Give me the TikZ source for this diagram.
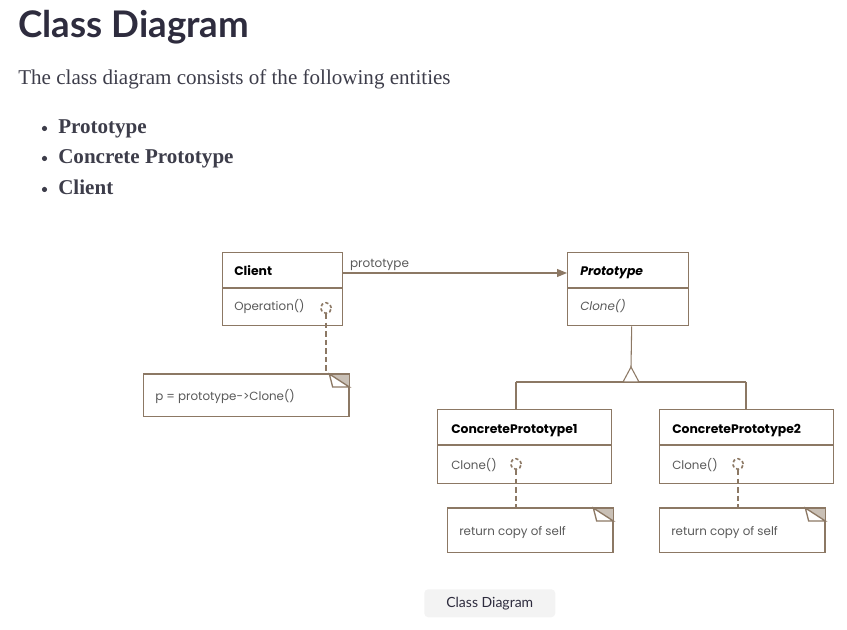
\documentclass[tikz,border=0pt]{standalone}
\usepackage{fontspec}
\setmainfont{Liberation Serif}
\newfontfamily\titlefont{Lato}
\newfontfamily\dfont{Poppins}
\usetikzlibrary{arrows.meta}
\definecolor{brn}{HTML}{8C7864}
\definecolor{foldc}{HTML}{C9C0B6}
\definecolor{ink}{HTML}{2E2C3E}
\definecolor{txt}{HTML}{3D3D4A}
\definecolor{dtxt}{HTML}{5A5A5A}
\definecolor{capbg}{HTML}{F3F3F3}
\begin{document}
\begin{tikzpicture}[x=0.75pt,y=-0.75pt,
  umlbox/.style={draw=brn,line width=1.1pt,fill=white,inner sep=0pt,anchor=north west},
  lbl/.style={anchor=base west,inner sep=0pt,font=\dfont\fontsize{8.9pt}{10pt}\selectfont,text=dtxt},
  lblb/.style={anchor=base west,inner sep=0pt,font=\dfont\bfseries\fontsize{9.3pt}{10pt}\selectfont,text=black},
  conn/.style={draw=brn,line width=0.8pt},
  dashlink/.style={draw=brn,line width=1.7pt,dash pattern=on 4pt off 2.4pt},
  port/.style={circle,draw=brn,line width=1.2pt,dash pattern=on 2.4pt off 1.8pt,minimum size=8pt,inner sep=0pt},
  txtl/.style={anchor=base west,inner sep=0pt,text=txt}
]
\useasboundingbox (0,0) rectangle (847,630);

% header text
\node[txtl,text=ink,font=\titlefont\bfseries\fontsize{27.5pt}{30pt}\selectfont] (title) at (18,38) {Class Diagram};
\node[txtl,font=\fontsize{15.8pt}{18pt}\selectfont] (para) at (18,85) {The class diagram consists of the following entities};
\foreach \y/\t [count=\i] in {134/Prototype,164/Concrete Prototype,195/Client}{
  \fill[txt] (44.5,\y-5.5) circle (2.6) node[coordinate] (bul\i) {};
  \node[txtl,font=\bfseries\fontsize{15.8pt}{18pt}\selectfont] (item\i) at (58,\y) {\t};
}

% Client
\node[umlbox,minimum width=90pt,minimum height=54.75pt] (client) at (222,252) {};
\draw[conn,line width=1.1pt] (222,288) -- (342,288);
\node[lblb] (clientn) at (234,275.5) {Client};
\node[lbl] (clientop) at (234,310.5) {Operation()};
\node[port] (cport) at (326,308) {};

% Prototype
\node[umlbox,minimum width=90.75pt,minimum height=54.75pt] (proto) at (567,252) {};
\draw[conn,line width=1.1pt] (567,288) -- (688,288);
\node[lblb,font=\dfont\bfseries\itshape\fontsize{9.3pt}{10pt}\selectfont] (proton) at (580,275.5) {Prototype};
\node[lbl,font=\dfont\itshape\fontsize{8.9pt}{10pt}\selectfont] (protoop) at (580,310.5) {Clone()};

% association
\draw[conn,-{Triangle[length=7.5pt,width=6pt]},fill=brn] ([yshift=-15.75pt]client.north east) -- ([yshift=-15.75pt]proto.north west)
  node[pos=0,anchor=base west,inner sep=0pt,xshift=4.5pt,yshift=4.2pt,font=\dfont\fontsize{9pt}{10pt}\selectfont,text=dtxt] (assoc) {prototype};

% Concrete prototypes
\node[umlbox,minimum width=130.5pt,minimum height=55.5pt] (cp1) at (437,409) {};
\draw[conn,line width=1.1pt] (437,445) -- (611,445);
\node[lblb] (cp1n) at (451,433.5) {ConcretePrototype1};
\node[lbl] (cp1op) at (451,469.5) {Clone()};
\node[port] (p1port) at (516,464) {};

\node[umlbox,minimum width=130.5pt,minimum height=55.5pt] (cp2) at (659,409) {};
\draw[conn,line width=1.1pt] (659,445) -- (833,445);
\node[lblb] (cp2n) at (672,433.5) {ConcretePrototype2};
\node[lbl] (cp2op) at (672,469.5) {Clone()};
\node[port] (p2port) at (738,464) {};

% generalization
\coordinate (apex) at (631,367);
\coordinate (bar) at (631,382);
\draw[conn] ([xshift=2.6pt]proto.south) -- (apex);
\draw[conn] (516,382) -- (746,382);
\draw[conn] (516,382) -- (516,409);
\draw[conn] (746,382) -- (746,409);
\draw[conn,fill=white] (apex) -- (623,382) -- (639,382) -- cycle;

% notes
\node[umlbox,line width=1pt,minimum width=153.75pt,minimum height=31.5pt] (note0) at (143,374) {};
\node[umlbox,line width=1pt,minimum width=123.75pt,minimum height=33pt] (note1) at (447,508) {};
\node[umlbox,line width=1pt,minimum width=123.75pt,minimum height=33pt] (note2) at (659,508) {};
\foreach \n in {note0,note1,note2}{
  \fill[foldc] ([xshift=-15pt]\n.north east) -- (\n.north east) -- ([yshift=-9.75pt]\n.north east) -- cycle;
  \draw[conn,line width=1pt,fill=white] ([xshift=-15pt]\n.north east) -- ([xshift=-12.5pt,yshift=-9.75pt]\n.north east) -- ([yshift=-9.75pt]\n.north east) -- cycle;
  \draw[conn,line width=1pt] (\n.north west) -- (\n.north east) -- (\n.south east);
}
\node[lbl] (note0t) at (155,401) {p = prototype->Clone()};
\node[lbl] (note1t) at (459,536) {return copy of self};
\node[lbl] (note2t) at (671,536) {return copy of self};

% dashed links
\draw[dashlink] (cport.south) -- (note0.north -| cport);
\draw[dashlink] (p1port.south) -- (note1.north -| p1port);
\draw[dashlink] (p2port.south) -- (note2.north -| p2port);

% caption
\node[fill=capbg,rounded corners=3pt,minimum width=98.25pt,minimum height=21pt,inner sep=0pt,anchor=north west] (capbox) at (424,589) {};
\node[font=\titlefont\fontsize{10.5pt}{12pt}\selectfont,text=ink] (cap) at (capbox.center) {Class Diagram};
\end{tikzpicture}
\end{document}
